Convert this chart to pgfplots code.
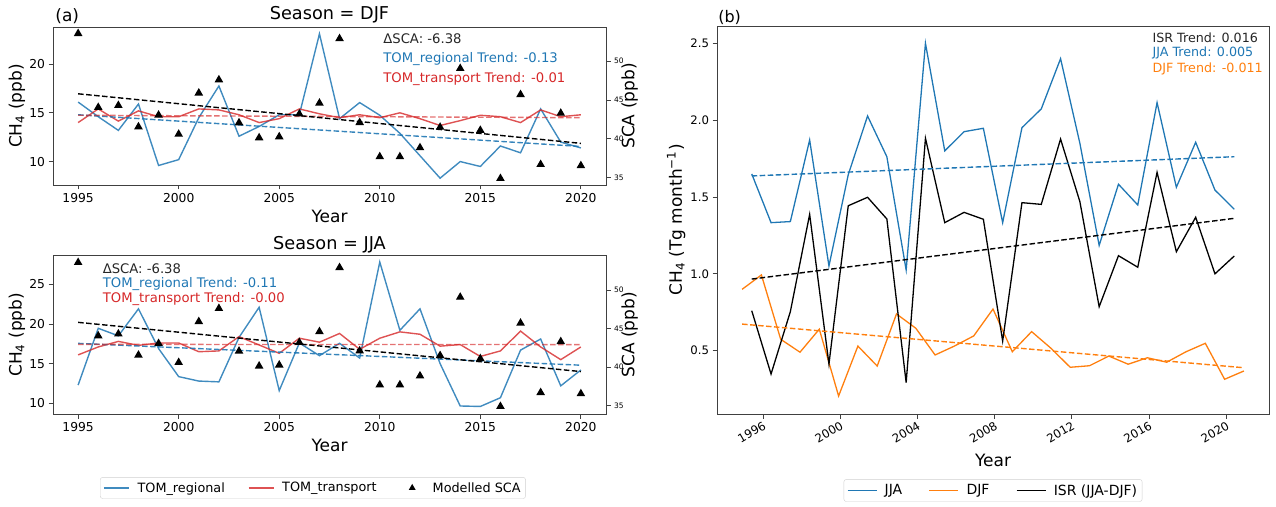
\documentclass[border=0pt]{standalone}
\usepackage{fontspec}
\setmainfont{DejaVu Sans}
\usepackage{pgfplots}
\pgfplotsset{compat=1.18}
\definecolor{tblue}{HTML}{1F77B4}
\definecolor{tred}{HTML}{D62728}
\definecolor{torange}{HTML}{FF7F0E}
\newcommand{\fs}[1]{\fontsize{#1bp}{#1bp}\selectfont}
\pgfplotsset{
 base/.style={scale only axis, clip mode=individual,
   axis line style={black!75,line width=0.8bp},
   every tick/.style={black!75,line width=0.8bp},
   tick align=outside, major tick length=4.5bp,
   /pgf/number format/assume math mode=true, /pgf/number format/1000 sep={},
   tick label style={font=\fs{12.3}}, label style={font=\fs{17}},
   title style={font=\fs{17.7}, yshift=-6pt},
   every axis plot/.append style={line width=1.4bp}},
 lineleg/.style={legend image code/.code={\draw[##1] (0bp,0bp) -- (25bp,0bp);}},
 linelegb/.style={legend image code/.code={\draw[##1] (0bp,0bp) -- (29bp,0bp);}},
 trileg/.style={legend image code/.code={\path[draw=none,fill=none] (0bp,0bp) -- (25bp,0bp); \draw[##1] plot coordinates {(12.5bp,0bp)};}},
 trend/.style={dash pattern=on 5.5bp off 2.5bp, line width=1.4bp},
}
\begin{document}
\begin{tikzpicture}
%================ top left: DJF ================
\begin{axis}[base, at={(53bp,322bp)}, anchor=south west, width=553bp, height=158bp,
 xmin=1993.75, xmax=2021.25, ymin=7.6, ymax=23.8,
 xtick={1995,2000,...,2020}, ytick={10,15,20}, xtick pos=bottom, ytick pos=left,
 xlabel={Year}, ylabel={CH\textsubscript{4} (ppb)},
 xlabel style={at={(axis description cs:0.5,-0.196)}, anchor=center},
 ylabel style={at={(axis description cs:-0.065,0.5)}, anchor=center},
 title={Season = DJF}, title style={at={(axis description cs:0.5,1.075)}, anchor=center}]
\addplot[tblue, opacity=0.85] coordinates {(1995,16.1)(1996,14.6)(1997,13.2)(1998,15.9)(1999,9.6)(2000,10.2)(2001,14.5)(2002,17.75)(2003,12.6)(2004,13.6)(2005,14.8)(2006,14.8)(2007,23.1)(2008,14.4)(2009,16.05)(2010,14.75)(2011,12.9)(2012,10.6)(2013,8.3)(2014,10.0)(2015,9.5)(2016,11.6)(2017,10.9)(2018,15.4)(2019,12.0)(2020,11.4)};
\addplot[tred, opacity=0.8] coordinates {(1995,14.0)(1996,15.4)(1997,14.15)(1998,15.2)(1999,14.6)(2000,14.6)(2001,15.4)(2002,15.3)(2003,14.8)(2004,14.0)(2005,14.4)(2006,15.4)(2007,14.9)(2008,14.5)(2009,14.8)(2010,14.5)(2011,15.0)(2012,14.4)(2013,13.7)(2014,14.2)(2015,14.75)(2016,14.6)(2017,14.0)(2018,15.3)(2019,14.6)(2020,14.8)};
\addplot[tblue, opacity=0.9, trend] coordinates {(1995,14.8)(2020,11.55)};
\addplot[tred, opacity=0.65, trend] coordinates {(1995,14.75)(2020,14.5)};
\node[anchor=west, font=\fs{13.2}, text=black!85] at (axis description cs:0.591,0.924) {ΔSCA: -6.38};
\node[anchor=west, font=\fs{13.2}, text=tblue] at (axis description cs:0.591,0.797) {TOM\_regional Trend: -0.13};
\node[anchor=west, font=\fs{13.2}, text=tred] at (axis description cs:0.591,0.671) {TOM\_transport Trend: -0.01};
\node[anchor=west, font=\fs{17}, inner sep=0pt] at (axis description cs:0.004,1.07) {(a)};
\end{axis}
\begin{axis}[base, at={(53bp,322bp)}, anchor=south west, width=553bp, height=158bp,
 xmin=1993.75, xmax=2021.25, ymin=34.06, ymax=54.4, axis x line=none, axis y line*=right,
 ytick={35,40,45,50}, yticklabel style={font=\fs{7.5}}, ylabel={SCA (ppb)},
 ylabel style={at={(axis description cs:1.043,0.5)}, anchor=center}]
\addplot[only marks, mark=triangle*, mark size=3.6bp, black] coordinates {(1995,53.56)(1996,44.05)(1997,44.3)(1998,41.55)(1999,43.06)(2000,40.6)(2001,45.9)(2002,47.6)(2003,42.07)(2004,40.14)(2005,40.27)(2006,43.2)(2007,44.6)(2008,52.9)(2009,42.1)(2010,37.7)(2011,37.7)(2012,38.86)(2013,41.5)(2014,49.06)(2015,41.1)(2016,34.9)(2017,45.7)(2018,36.7)(2019,43.3)(2020,36.55)};
\addplot[black, trend] coordinates {(1995,45.8)(2020,39.42)};
\end{axis}
%================ bottom left: JJA ================
\begin{axis}[base, at={(53bp,93bp)}, anchor=south west, width=553bp, height=158.3bp,
 xmin=1993.75, xmax=2021.25, ymin=8.65, ymax=28.6,
 xtick={1995,2000,...,2020}, ytick={10,15,20,25}, xtick pos=bottom, ytick pos=left,
 xlabel={Year}, ylabel={CH\textsubscript{4} (ppb)},
 xlabel style={at={(axis description cs:0.5,-0.196)}, anchor=center},
 ylabel style={at={(axis description cs:-0.065,0.5)}, anchor=center},
 title={Season = JJA}, title style={at={(axis description cs:0.5,1.067)}, anchor=center},
 legend columns=3, legend cell align=left,
 legend style={at={(axis description cs:0.470,-0.467)}, anchor=center,
   font=\fs{12.8}, draw=black!18, rounded corners=2.5bp, inner xsep=3bp, inner ysep=3bp,
   /tikz/every odd column/.append style={column sep=6bp},
   /tikz/every even column/.append style={column sep=21bp}}]
\addplot[tblue, opacity=0.85, lineleg] coordinates {(1995,12.3)(1996,19.45)(1997,18.5)(1998,21.9)(1999,16.9)(2000,13.36)(2001,12.8)(2002,12.7)(2003,18.3)(2004,22.1)(2005,11.6)(2006,17.6)(2007,16.0)(2008,17.56)(2009,15.7)(2010,27.8)(2011,19.2)(2012,21.9)(2013,15.0)(2014,9.66)(2015,9.6)(2016,10.7)(2017,16.7)(2018,18.1)(2019,12.2)(2020,14.2)};
\addlegendentry{TOM\_regional}
\addplot[tred, opacity=0.8, lineleg] coordinates {(1995,16.1)(1996,17.1)(1997,17.8)(1998,17.3)(1999,17.6)(2000,17.6)(2001,16.5)(2002,16.6)(2003,18.4)(2004,17.35)(2005,16.3)(2006,18.2)(2007,17.7)(2008,18.8)(2009,16.8)(2010,18.2)(2011,19.0)(2012,18.7)(2013,17.2)(2014,17.4)(2015,15.9)(2016,16.6)(2017,19.1)(2018,17.1)(2019,15.5)(2020,17.1)};
\addlegendentry{TOM\_transport}
\addplot[tblue, opacity=0.9, trend, forget plot] coordinates {(1995,17.55)(2020,14.8)};
\addplot[tred, opacity=0.65, trend, forget plot] coordinates {(1995,17.42)(2020,17.4)};
\addlegendimage{only marks, black, mark=triangle*, mark size=2.6bp, trileg}
\addlegendentry{Modelled SCA}
\node[anchor=west, font=\fs{13.2}, text=black!85] at (axis description cs:0.0837,0.920) {ΔSCA: -6.38};
\node[anchor=west, font=\fs{13.2}, text=tblue] at (axis description cs:0.0837,0.821) {TOM\_regional Trend: -0.11};
\node[anchor=west, font=\fs{13.2}, text=tred] at (axis description cs:0.0837,0.726) {TOM\_transport Trend: -0.00};
\end{axis}
\begin{axis}[base, at={(53bp,93bp)}, anchor=south west, width=553bp, height=158.3bp,
 xmin=1993.75, xmax=2021.25, ymin=33.92, ymax=54.44, axis x line=none, axis y line*=right,
 ytick={35,40,45,50}, yticklabel style={font=\fs{7.5}}, ylabel={SCA (ppb)},
 ylabel style={at={(axis description cs:1.043,0.5)}, anchor=center}]
\addplot[only marks, mark=triangle*, mark size=3.6bp, black] coordinates {(1995,53.56)(1996,44.05)(1997,44.3)(1998,41.55)(1999,43.06)(2000,40.6)(2001,45.9)(2002,47.6)(2003,42.07)(2004,40.14)(2005,40.27)(2006,43.2)(2007,44.6)(2008,52.9)(2009,42.1)(2010,37.7)(2011,37.7)(2012,38.86)(2013,41.5)(2014,49.06)(2015,41.1)(2016,34.9)(2017,45.7)(2018,36.7)(2019,43.3)(2020,36.55)};
\addplot[black, trend] coordinates {(1995,45.8)(2020,39.42)};
\end{axis}
%================ right panel (b) ================
\begin{axis}[base, at={(717bp,93bp)}, anchor=south west, width=552bp, height=387.3bp,
 xmin=1993.615, xmax=2022.215, ymin=0.088, ymax=2.608,
 xtick={1996,2000,...,2020}, ytick={0.5,1.0,...,2.5}, xtick pos=bottom, ytick pos=left,
 tick label style={font=\fs{11.7}},
 yticklabel style={/pgf/number format/fixed, /pgf/number format/fixed zerofill, /pgf/number format/precision=1},
 xticklabel style={rotate=30, anchor=north east, inner sep=1.5bp},
 xlabel={Year}, ylabel={CH\textsubscript{4} (Tg month\textsuperscript{−1})},
 xlabel style={at={(axis description cs:0.5,-0.119)}, anchor=center},
 ylabel style={at={(axis description cs:-0.074,0.501)}, anchor=center},
 legend columns=3, legend cell align=left,
 legend style={at={(axis description cs:0.5,-0.1975)}, anchor=center,
   font=\fs{14}, draw=black!18, rounded corners=2.5bp, inner xsep=3bp, inner ysep=3bp,
   /tikz/every odd column/.append style={column sep=5.5bp},
   /tikz/every even column/.append style={column sep=24.5bp}}]
\addplot[tblue, line width=1.3bp, linelegb] coordinates {(1995.415,1.65)(1996.415,1.333)(1997.415,1.34)(1998.415,1.871)(1999.415,1.051)(2000.415,1.645)(2001.415,2.027)(2002.415,1.762)(2003.415,1.025)(2004.415,2.50)(2005.415,1.80)(2006.415,1.925)(2007.415,1.947)(2008.415,1.333)(2009.415,1.951)(2010.415,2.073)(2011.415,2.40)(2012.415,1.85)(2013.415,1.185)(2014.415,1.583)(2015.415,1.448)(2016.415,2.114)(2017.415,1.563)(2018.415,1.856)(2019.415,1.545)(2020.415,1.42)};
\addlegendentry{JJA}
\addplot[torange, line width=1.3bp, linelegb] coordinates {(1994.915,0.899)(1995.915,0.993)(1996.915,0.574)(1997.915,0.49)(1998.915,0.64)(1999.915,0.205)(2000.915,0.53)(2001.915,0.40)(2002.915,0.739)(2003.915,0.646)(2004.915,0.472)(2005.915,0.53)(2006.915,0.596)(2007.915,0.771)(2008.915,0.493)(2009.915,0.624)(2010.915,0.516)(2011.915,0.392)(2012.915,0.402)(2013.915,0.465)(2014.915,0.412)(2015.915,0.454)(2016.915,0.425)(2017.915,0.493)(2018.915,0.548)(2019.915,0.314)(2020.915,0.368)};
\addlegendentry{DJF}
\addplot[black, line width=1.3bp, linelegb] coordinates {(1995.415,0.76)(1996.415,0.348)(1997.415,0.754)(1998.415,1.387)(1999.415,0.413)(2000.415,1.443)(2001.415,1.498)(2002.415,1.357)(2003.415,0.292)(2004.415,1.882)(2005.415,1.333)(2006.415,1.40)(2007.415,1.355)(2008.415,0.563)(2009.415,1.463)(2010.415,1.452)(2011.415,1.877)(2012.415,1.47)(2013.415,0.786)(2014.415,1.118)(2015.415,1.043)(2016.415,1.66)(2017.415,1.144)(2018.415,1.368)(2019.415,1.0)(2020.415,1.116)};
\addlegendentry{ISR (JJA-DJF)}
\addplot[tblue, trend, forget plot] coordinates {(1995.415,1.637)(2020.415,1.762)};
\addplot[torange, trend, forget plot] coordinates {(1994.915,0.673)(2020.915,0.389)};
\addplot[black, trend, forget plot] coordinates {(1995.415,0.966)(2020.415,1.361)};
\node[anchor=west, font=\fs{12.7}, text=black!85] at (axis description cs:0.7826,0.971) {ISR Trend: 0.016};
\node[anchor=west, font=\fs{12.7}, text=tblue] at (axis description cs:0.7826,0.932) {JJA Trend: 0.005};
\node[anchor=west, font=\fs{12.7}, text=torange] at (axis description cs:0.7826,0.891) {DJF Trend: -0.011};
\node[anchor=west, font=\fs{16}, inner sep=0pt] at (axis description cs:0.002,1.025) {(b)};
\end{axis}
\pgfresetboundingbox
\useasboundingbox (0,0) rectangle (1276bp,507bp);
\end{tikzpicture}
\end{document}
